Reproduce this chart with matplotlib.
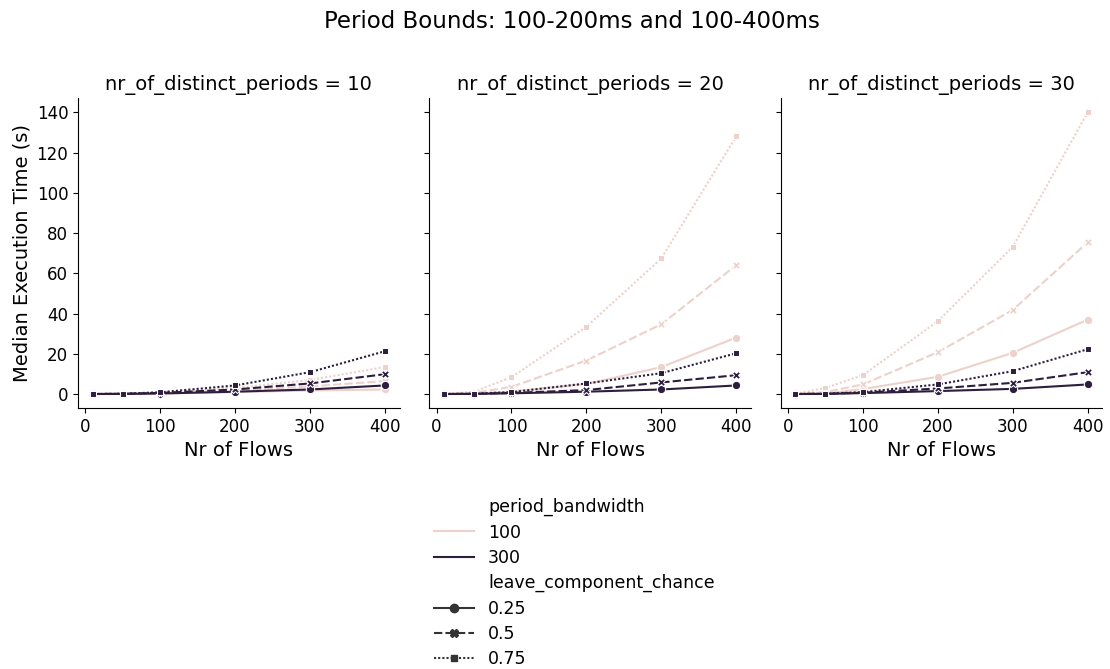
import numpy as np
import pandas as pd
import matplotlib
matplotlib.use("Agg")
import matplotlib.pyplot as plt
import seaborn as sns

flows = [10, 50, 100, 200, 300, 400]
periods = [10, 20, 30]
bandwidths = [100, 300]
leave_chances = [0.25, 0.5, 0.75]

# nr_of_distinct_periods = 10
p10_bw100_025 = [0.05, 0.1, 0.3, 1.0, 1.8, 2.3]
p10_bw100_050 = [0.05, 0.15, 0.5, 1.8, 3.8, 6.5]
p10_bw100_075 = [0.05, 0.2, 0.8, 3.0, 7.0, 13.5]
p10_bw300_025 = [0.05, 0.1, 0.3, 1.2, 2.3, 4.3]
p10_bw300_050 = [0.05, 0.15, 0.6, 2.3, 5.3, 9.9]
p10_bw300_075 = [0.05, 0.2, 0.9, 4.3, 10.9, 21.3]

# nr_of_distinct_periods = 20
p20_bw100_025 = [0.05, 0.2, 1.3, 5.0, 13.4, 28.1]
p20_bw100_050 = [0.05, 0.6, 3.6, 16.7, 34.7, 64.1]
p20_bw100_075 = [0.1, 1.2, 8.4, 33.5, 67.4, 128.1]
p20_bw300_025 = [0.05, 0.1, 0.4, 1.2, 2.3, 4.3]
p20_bw300_050 = [0.05, 0.15, 0.6, 2.0, 5.8, 9.4]
p20_bw300_075 = [0.05, 0.2, 1.0, 5.3, 10.4, 20.3]

# nr_of_distinct_periods = 30
p30_bw100_025 = [0.05, 0.3, 2.5, 8.6, 20.5, 37.0]
p30_bw100_050 = [0.1, 1.0, 4.8, 20.8, 41.8, 75.4]
p30_bw100_075 = [0.1, 3.1, 9.4, 36.2, 73.1, 140.0]
p30_bw300_025 = [0.05, 0.1, 0.5, 1.5, 2.6, 4.8]
p30_bw300_050 = [0.05, 0.15, 0.7, 2.8, 5.6, 10.9]
p30_bw300_075 = [0.05, 0.2, 1.0, 4.8, 11.4, 22.3]

series = {
    (10, 100, 0.25): p10_bw100_025, (10, 100, 0.5): p10_bw100_050, (10, 100, 0.75): p10_bw100_075,
    (10, 300, 0.25): p10_bw300_025, (10, 300, 0.5): p10_bw300_050, (10, 300, 0.75): p10_bw300_075,
    (20, 100, 0.25): p20_bw100_025, (20, 100, 0.5): p20_bw100_050, (20, 100, 0.75): p20_bw100_075,
    (20, 300, 0.25): p20_bw300_025, (20, 300, 0.5): p20_bw300_050, (20, 300, 0.75): p20_bw300_075,
    (30, 100, 0.25): p30_bw100_025, (30, 100, 0.5): p30_bw100_050, (30, 100, 0.75): p30_bw100_075,
    (30, 300, 0.25): p30_bw300_025, (30, 300, 0.5): p30_bw300_050, (30, 300, 0.75): p30_bw300_075,
}

rows = []
for (p, bw, lc), vals in series.items():
    for f, v in zip(flows, vals):
        rows.append({"nr_of_distinct_periods": p, "period_bandwidth": bw,
                     "leave_component_chance": lc, "nr_of_flows": f, "time": v})
df = pd.DataFrame(rows)

g = sns.relplot(data=df, x="nr_of_flows", y="time", hue="period_bandwidth",
                style="leave_component_chance", col="nr_of_distinct_periods",
                kind="line", markers=True, height=4, aspect=0.9)
g.set_axis_labels("Nr of Flows", "Median Execution Time (s)", fontsize=14)
for ax in g.axes.flat:
    ax.tick_params(labelsize=12)
    ax.title.set_fontsize(14)
    ax.set_xticks([0, 100, 200, 300, 400])
    ax.set_yticks(range(0, 141, 20))

g.figure.set_size_inches(11.1, 6.69)
g.figure.subplots_adjust(left=0.0703, right=0.993, top=0.853, bottom=0.39, wspace=0.093)
g.figure.suptitle("Period Bounds: 100-200ms and 100-400ms", fontsize=16.5, x=0.515, y=0.985)

sns.move_legend(g, "upper left", bbox_to_anchor=(0.377, 0.279), frameon=False,
                fontsize=12.5, title=None, handlelength=2.3, labelspacing=0.42)

plt.savefig("out.png", dpi=100)
